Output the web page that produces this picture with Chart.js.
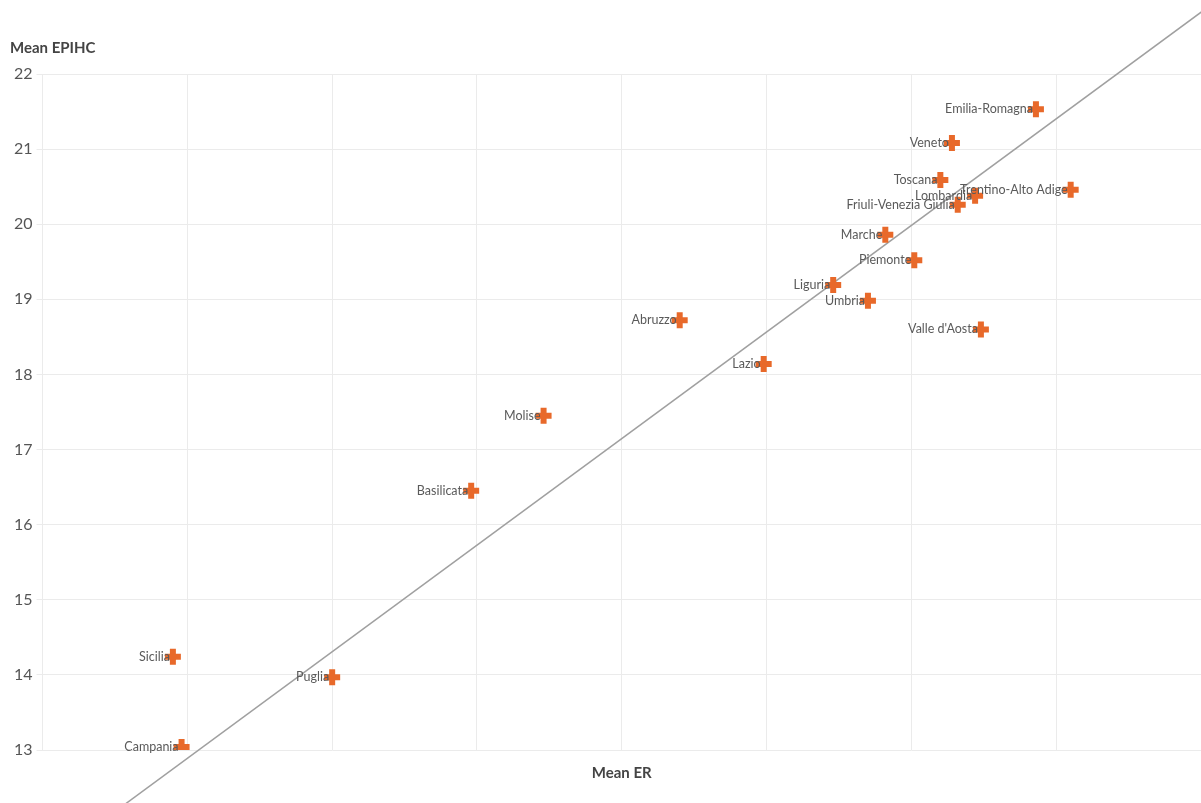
<!DOCTYPE html>
<html>
<head>
<meta charset="utf-8">
<script src="https://cdn.jsdelivr.net/npm/chart.js@4"></script>
<style>
  html, body { margin: 0; padding: 0; background: #fff; }
  #wrap { width: 1201px; height: 803px; }
</style>
</head>
<body>
<div id="wrap"><canvas id="graph" width="1201" height="803"></canvas></div>
<script>
// regions, mean employment rate (x) and mean EPIHC (y)
const regions = ["Emilia-Romagna", "Veneto", "Toscana", "Lombardia", "Trentino-Alto Adige",
  "Friuli-Venezia Giulia", "Marche", "Piemonte", "Liguria", "Umbria", "Abruzzo",
  "Valle d'Aosta", "Lazio", "Molise", "Basilicata", "Sicilia", "Puglia", "Campania"];
const meanER = [74.3, 71.4, 71.0, 72.2, 75.5, 71.6, 69.1, 70.1, 67.3, 68.5, 62.0,
  72.4, 64.9, 57.3, 54.8, 44.5, 50.0, 44.8];
const meanEPIHC = [21.53, 21.08, 20.59, 20.38, 20.46, 20.26, 19.86, 19.52, 19.19, 18.98, 18.72,
  18.60, 18.14, 17.45, 16.45, 14.24, 13.97, 13.04];

// fitted line end points
const trendX = [40, 82];
const trendY = [11.47, 23.39];

const xTicks = [40, 45, 50, 55, 60, 65, 70, 75, 80];
const yTicks = [13, 14, 15, 16, 17, 18, 19, 20, 21, 22];

const orange = "#e8692a";

const pointLabels = {
  id: "pointLabels",
  afterDatasetsDraw(chart) {
    const ctx = chart.ctx;
    const meta = chart.getDatasetMeta(1);
    ctx.save();
    ctx.font = "12.5px Lato";
    ctx.fillStyle = "#5a5a5a";
    ctx.textAlign = "right";
    ctx.textBaseline = "middle";
    meta.data.forEach((pt, i) => {
      ctx.fillText(regions[i], pt.x - 3, pt.y);
    });
    ctx.restore();
  }
};

new Chart(document.getElementById("graph"), {
  type: "scatter",
  data: {
    datasets: [
      {
        type: "line",
        data: trendX.map((x, i) => ({ x: x, y: trendY[i] })),
        borderColor: "#a0a0a0",
        borderWidth: 1.5,
        pointRadius: 0,
        clip: false,
        order: 2
      },
      {
        data: meanER.map((x, i) => ({ x: x, y: meanEPIHC[i] })),
        pointStyle: "cross",
        pointRadius: 8,
        pointBorderWidth: 6,
        borderColor: orange,
        backgroundColor: orange,
        order: 1
      }
    ]
  },
  options: {
    responsive: false,
    animation: false,
    layout: { autoPadding: false, padding: { left: 10, right: 0, top: 39, bottom: 21 } },
    plugins: {
      legend: { display: false },
      tooltip: { enabled: false },
      title: {
        display: true,
        text: "Mean EPIHC",
        align: "start",
        color: "#444",
        font: { family: "Lato", size: 15, weight: "bold" },
        padding: { top: 0, bottom: 17 }
      }
    },
    scales: {
      x: {
        type: "linear",
        min: 40,
        max: 80,
        afterBuildTicks(axis) { axis.ticks = xTicks.map(v => ({ value: v })); },
        ticks: { display: false },
        grid: { color: "#ebebeb", drawTicks: false },
        border: { display: false },
        title: {
          display: true,
          text: "Mean ER",
          color: "#444",
          font: { family: "Lato", size: 15, weight: "bold" },
          padding: { top: 14, bottom: 0 }
        }
      },
      y: {
        min: 13,
        max: 22,
        afterBuildTicks(axis) { axis.ticks = yTicks.map(v => ({ value: v })); },
        ticks: { color: "#555", font: { family: "Lato", size: 16 }, padding: 4 },
        grid: { color: "#ebebeb", tickLength: 6 },
        border: { display: false }
      }
    }
  },
  plugins: [pointLabels]
});
</script>
</body>
</html>
